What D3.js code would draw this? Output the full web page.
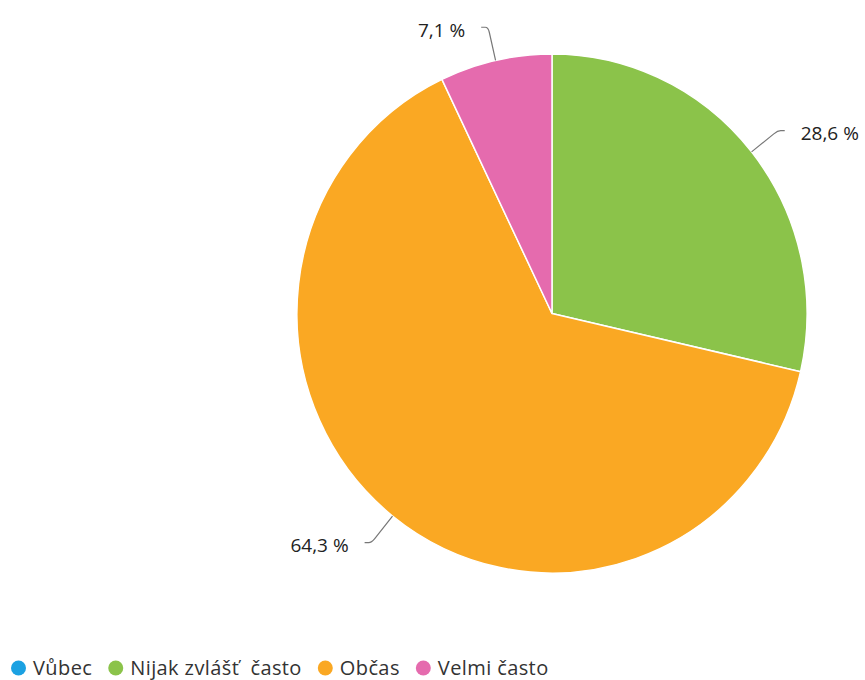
<!DOCTYPE html>
<html>
<head>
<meta charset="utf-8">
<script src="https://cdn.jsdelivr.net/npm/d3@7"></script>
<style>
  html, body { margin: 0; padding: 0; background: #fff; }
  svg { display: block; font-family: "Open Sans", sans-serif; }
</style>
</head>
<body>
<svg id="chart" width="865" height="680"></svg>
<script>
// Survey answer categories and their shares (%)
const categories = ["Vůbec", "Nijak zvlášť často", "Občas", "Velmi často"];
const values = [0, 28.6, 64.3, 7.1];
const colors = ["#1ba1e2", "#8bc34a", "#faa823", "#e56bae"];
const valueLabels = ["0 %", "28,6 %", "64,3 %", "7,1 %"];

const data = categories.map((c, i) => ({ name: c, value: values[i], color: colors[i], label: valueLabels[i] }));

const svg = d3.select("#chart");
const cx = 552, cy = 313.5, r = 259.5, sx = 0.983; // slight horizontal squeeze of the pie

const pie = d3.pie().sort(null).value(d => d.value);
const arc = d3.arc().innerRadius(0).outerRadius(r);
const arcs = pie(data);

const g = svg.append("g").attr("transform", `translate(${cx},${cy})`);
const slices = g.append("g").attr("transform", `scale(${sx},1)`);

slices.selectAll("path.slice")
  .data(arcs.filter(a => a.data.value > 0))
  .join("path")
  .attr("class", "slice")
  .attr("d", arc)
  .attr("fill", d => d.data.color)
  .attr("stroke", "#fff")
  .attr("stroke-width", 1.5)
  .attr("stroke-linejoin", "round");

// Data labels with bent connectors
const bendOffset = 34, lineLen = 7, gap = 16;
arcs.filter(a => a.data.value > 0).forEach(a => {
  const mid = (a.startAngle + a.endAngle) / 2;
  const ux = Math.sin(mid) * sx, uy = -Math.cos(mid);
  const p0 = [ux * r, uy * r];
  const p1 = [ux * (r + bendOffset), uy * (r + bendOffset)];
  const right = ux >= 0;
  const p2 = [p1[0] + (right ? lineLen : -lineLen), p1[1]];
  const path = d3.path();
  path.moveTo(p0[0], p0[1]);
  const q = [p1[0] - (p1[0] - p0[0]) * 0.15, p1[1] - (p1[1] - p0[1]) * 0.15];
  path.lineTo(q[0], q[1]);
  path.quadraticCurveTo(p1[0], p1[1], p1[0] + (right ? 3 : -3), p1[1]);
  path.lineTo(p2[0], p2[1]);
  g.append("path")
    .attr("d", path.toString())
    .attr("fill", "none")
    .attr("stroke", "#777")
    .attr("stroke-width", 1.2);
  g.append("text")
    .attr("x", p2[0] + (right ? gap : -gap))
    .attr("y", p1[1] + 3)
    .attr("dy", "0.35em")
    .attr("text-anchor", right ? "start" : "end")
    .attr("font-size", 19)
    .attr("fill", "#222")
    .text(a.data.label);
});

// Legend
const legend = svg.append("g").attr("transform", "translate(0,668)");
let lx = 11;
categories.forEach((c, i) => {
  const item = legend.append("g").attr("transform", `translate(${lx},0)`);
  item.append("circle").attr("cx", 7.5).attr("cy", 0).attr("r", 7.5).attr("fill", colors[i]);
  const t = item.append("text")
    .attr("x", 22).attr("y", 0).attr("dy", "0.35em")
    .attr("font-size", 20).attr("fill", "#333")
    .attr("letter-spacing", 0.4)
    .style("white-space", "pre")
    .text(c.replace("ť č", "ť  č"));
  lx += 22 + t.node().getComputedTextLength() + 16;
});
</script>
</body>
</html>
